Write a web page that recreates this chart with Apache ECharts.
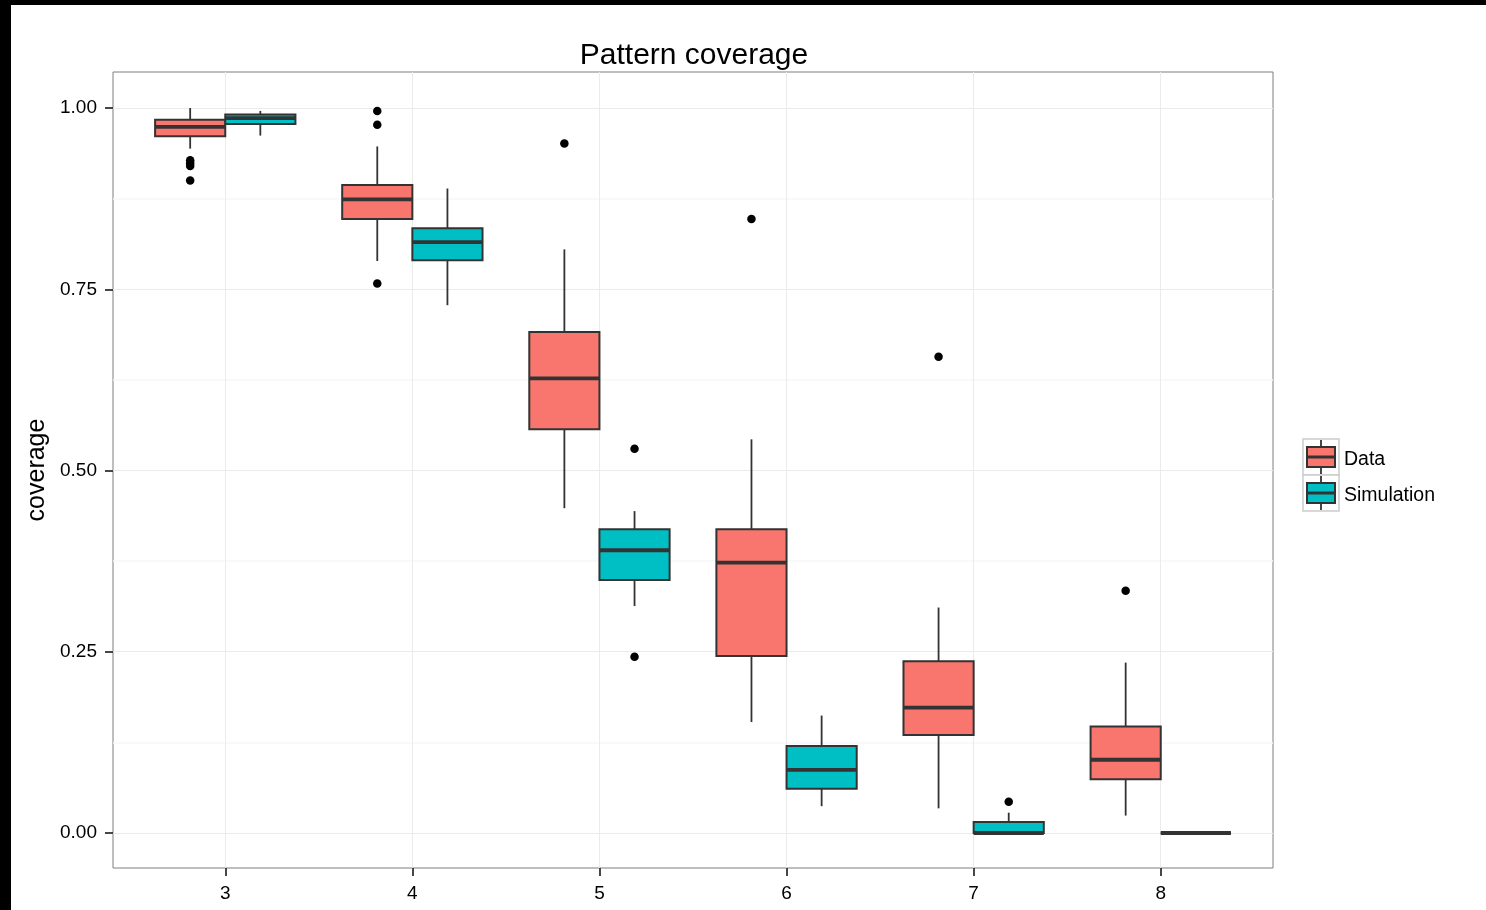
<!DOCTYPE html>
<html>
<head>
<meta charset="utf-8">
<script src="https://cdn.jsdelivr.net/npm/echarts@6/dist/echarts.min.js"></script>
<style>
  html, body { margin: 0; padding: 0; background: #fff; }
  #chart { position: absolute; left: 0; top: 0; width: 1486px; height: 910px; background: #fff; }
  .strip { position: absolute; background: #000; z-index: 10; }
</style>
</head>
<body>
<div id="chart"></div>
<div class="strip" style="left:0;top:0;width:1486px;height:5px;"></div>
<div class="strip" style="left:0;top:0;width:11px;height:910px;"></div>
<script>
// ---- data ----
const categories = [3, 4, 5, 6, 7, 8];
const seriesNames = ['Data', 'Simulation'];
const seriesColors = ['#F8766D', '#00BFC4'];

// [lowerWhisker, Q1, median, Q3, upperWhisker] per category
const dataStats = [
  [0.944, 0.961, 0.974, 0.984, 1.000],
  [0.789, 0.847, 0.874, 0.894, 0.947],
  [0.448, 0.557, 0.627, 0.691, 0.805],
  [0.153, 0.244, 0.373, 0.419, 0.543],
  [0.034, 0.135, 0.173, 0.237, 0.311],
  [0.024, 0.074, 0.101, 0.147, 0.235]
];
const dataOutliers = [
  [0.928, 0.924, 0.920, 0.900],
  [0.996, 0.977, 0.758],
  [0.951],
  [0.847],
  [0.657],
  [0.334]
];
const simStats = [
  [0.962, 0.978, 0.986, 0.991, 0.996],
  [0.728, 0.790, 0.815, 0.834, 0.889],
  [0.313, 0.349, 0.390, 0.419, 0.444],
  [0.037, 0.061, 0.087, 0.120, 0.162],
  [0.000, 0.000, 0.000, 0.015, 0.028],
  [0.000, 0.000, 0.000, 0.000, 0.000]
];
const simOutliers = [
  [],
  [],
  [0.530, 0.243],
  [],
  [0.043],
  []
];
const yMajorTicks = [0, 0.25, 0.5, 0.75, 1.0];
const yMinorTicks = [0.125, 0.375, 0.625, 0.875];

// ---- chart ----
const dodge = 0.75;            // total dodge width
const boxW = dodge / 2;        // each box width in category units
const offsets = [-dodge / 4, dodge / 4];
const statsList = [dataStats, simStats];
const outList = [dataOutliers, simOutliers];

function makeRender(k) {
  return function (params, api) {
    const x = api.value(0) + offsets[k];
    const lo = api.value(1), q1 = api.value(2), med = api.value(3), q3 = api.value(4), hi = api.value(5);
    const xl = api.coord([x - boxW / 2, q1])[0];
    const xr = api.coord([x + boxW / 2, q1])[0];
    const xc = api.coord([x, q1])[0];
    const yLo = api.coord([x, lo])[1];
    const yQ1 = api.coord([x, q1])[1];
    const yMed = api.coord([x, med])[1];
    const yQ3 = api.coord([x, q3])[1];
    const yHi = api.coord([x, hi])[1];
    const stroke = '#333333';
    return {
      type: 'group',
      children: [
        { type: 'line', shape: { x1: xc, y1: yHi, x2: xc, y2: yQ3 }, style: { stroke: stroke, lineWidth: 1.8 } },
        { type: 'line', shape: { x1: xc, y1: yQ1, x2: xc, y2: yLo }, style: { stroke: stroke, lineWidth: 1.8 } },
        { type: 'rect', shape: { x: xl, y: yQ3, width: xr - xl, height: yQ1 - yQ3 },
          style: { fill: seriesColors[k], stroke: stroke, lineWidth: 2 } },
        { type: 'line', shape: { x1: xl, y1: yMed, x2: xr, y2: yMed }, style: { stroke: stroke, lineWidth: 3.8 } }
      ]
    };
  };
}

const series = [];
seriesNames.forEach(function (name, k) {
  series.push({
    name: name,
    type: 'custom',
    renderItem: makeRender(k),
    encode: { x: 0, y: [1, 2, 3, 4, 5] },
    data: categories.map(function (c, i) { return [c].concat(statsList[k][i]); }),
    z: 3,
    silent: true
  });
  const pts = [];
  categories.forEach(function (c, i) {
    outList[k][i].forEach(function (v) { pts.push([c + offsets[k], v]); });
  });
  series.push({
    name: name + ' outliers',
    type: 'scatter',
    data: pts,
    symbol: 'circle',
    symbolSize: 8.5,
    itemStyle: { color: '#000000', opacity: 1 },
    z: 4,
    silent: true
  });
});

const fontFam = '"Liberation Sans", Arial, Helvetica, sans-serif';

// legend drawn as graphic from seriesNames / seriesColors
const legendGraphics = [];
seriesNames.forEach(function (name, k) {
  const kx = 1303, ky = 439 + k * 36, ks = 36;
  legendGraphics.push(
    { type: 'rect', shape: { x: kx, y: ky, width: ks, height: ks }, style: { fill: '#ffffff', stroke: '#cccccc', lineWidth: 1.5 } },
    { type: 'line', shape: { x1: kx + 18, y1: ky + 1, x2: kx + 18, y2: ky + 35 }, style: { stroke: '#333333', lineWidth: 1.8 } },
    { type: 'rect', shape: { x: kx + 4, y: ky + 8, width: 28, height: 20 }, style: { fill: seriesColors[k], stroke: '#333333', lineWidth: 2 } },
    { type: 'line', shape: { x1: kx + 4, y1: ky + 18, x2: kx + 32, y2: ky + 18 }, style: { stroke: '#333333', lineWidth: 3 } },
    { type: 'text', x: kx + 41, y: ky + 21, style: { text: name, fill: '#000000', font: '19.5px ' + fontFam, verticalAlign: 'middle' } }
  );
});

const chart = echarts.init(document.getElementById('chart'), null, { renderer: 'canvas' });
chart.setOption({
  animation: false,
  backgroundColor: '#ffffff',
  title: {
    text: 'Pattern coverage',
    left: 689,
    textAlign: 'center',
    top: 36,
    textStyle: { fontFamily: fontFam, fontSize: 30, fontWeight: 'normal', color: '#000000' }
  },
  grid: {
    left: 113, top: 72, width: 1160, height: 796,
    show: true, borderColor: '#7f7f7f', borderWidth: 1, backgroundColor: 'transparent'
  },
  xAxis: {
    type: 'value',
    min: 2.4, max: 8.6,
    axisLine: { show: false, onZero: false },
    axisTick: { show: true, customValues: categories, length: 8, lineStyle: { color: '#333333', width: 1.8 } },
    axisLabel: { customValues: categories, margin: 16, fontSize: 19, fontFamily: fontFam, color: '#000000',
      formatter: function (v) { return String(v); } },
    splitLine: { show: true, lineStyle: { color: '#ebebeb', width: 1 } }
  },
  yAxis: [{
    type: 'value',
    min: -0.0483, max: 1.0497,
    name: 'coverage',
    nameLocation: 'middle',
    nameRotate: 90,
    nameGap: 50,
    nameTextStyle: { fontFamily: fontFam, fontSize: 25, color: '#000000' },
    axisLine: { show: false, onZero: false },
    axisTick: { show: true, customValues: yMajorTicks, length: 8, lineStyle: { color: '#333333', width: 1.8 } },
    axisLabel: { customValues: yMajorTicks, margin: 16, fontSize: 19, fontFamily: fontFam, color: '#000000',
      lineHeight: 19, padding: [6, 0, 0, 0],
      formatter: function (v) { return v.toFixed(2); } },
    splitLine: { show: true, lineStyle: { color: '#ebebeb', width: 1 } }
  }, {
    type: 'value',
    min: -0.0483, max: 1.0497,
    position: 'left',
    axisLine: { show: false, onZero: false },
    axisTick: { show: false, customValues: yMinorTicks },
    axisLabel: { show: false, customValues: yMinorTicks },
    splitLine: { show: true, lineStyle: { color: '#f7f7f7', width: 1.5 } }
  }],
  graphic: legendGraphics,
  series: series
});
</script>
</body>
</html>
